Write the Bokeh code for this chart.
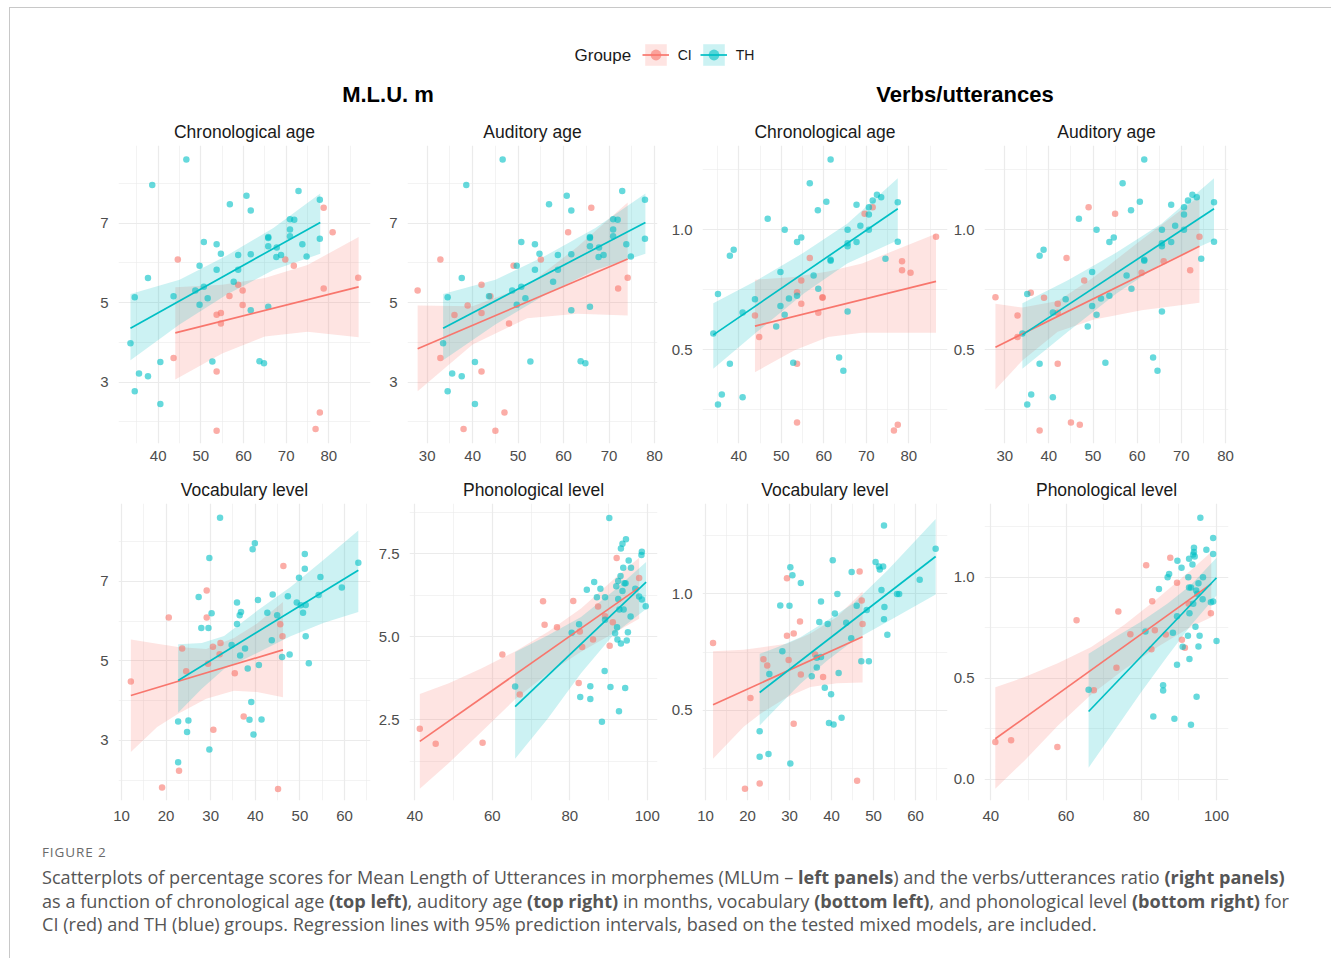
from bokeh.plotting import figure
from bokeh.models import (FixedTicker, NumeralTickFormatter, Range1d, Label,
                          Legend, LegendItem, Div)
from bokeh.layouts import column, row
from bokeh.embed import file_html
from bokeh.resources import INLINE

CI_COLOR = "#F8766D"
TH_COLOR = "#00BFC4"
FONT = "Liberation Sans"
NAN = float("nan")

groups = ["CI", "TH"]

# ---------------- tick definitions ----------------
ticks_age_chrono = [40, 50, 60, 70, 80]
minor_age_chrono = [35, 45, 55, 65, 75, 85]
ticks_age_aud = [30, 40, 50, 60, 70, 80]
minor_age_aud = [35, 45, 55, 65, 75]
ticks_vocab = [10, 20, 30, 40, 50, 60]
minor_vocab = [15, 25, 35, 45, 55, 65]
ticks_phon = [40, 60, 80, 100]
minor_phon = [50, 70, 90]
ticks_mlu = [3, 5, 7]
minor_mlu = [2, 4, 6, 8]
ticks_mlu_phon = [2.5, 5.0, 7.5]
minor_mlu_phon = [1.25, 3.75, 6.25, 8.75]
ticks_verbs = [0.5, 1.0]
minor_verbs = [0.25, 0.75, 1.25]
ticks_verbs_phon = [0.0, 0.5, 1.0]
minor_verbs_phon = [0.25, 0.75, 1.25]

# ---------------- TH: age (chronological = auditory) vs MLU ----------------
th_age_mlu_x = [46.6, 38.6, 60.7, 56.8, 61.7, 72.9, 77.9, 70.9, 71.9, 70.9, 70.9, 65.8,
                65.8, 65.8, 67.8, 73.8, 77.9, 67.7, 68.8, 74.8, 61.7, 58.75, 54.7, 50.7,
                53.7, 49.7, 53.7, 58.75, 57.7, 50.7, 48.7, 51.6, 49.7, 43.6, 34.5, 37.6,
                61.7, 65.8, 33.5, 40.5, 52.7, 63.75, 64.8, 35.5, 37.6, 34.5, 40.5]
th_age_mlu_y = [8.60, 7.96, 7.69, 7.48, 7.32, 7.81, 7.59, 7.10, 7.09, 6.84, 6.67, 6.65,
                6.63, 6.42, 6.39, 6.47, 6.61, 6.15, 6.20, 6.16, 6.22, 6.20, 6.23, 6.53,
                6.47, 5.93, 5.83, 5.83, 5.53, 5.40, 5.31, 5.11, 4.95, 5.16, 5.14, 5.62,
                4.81, 4.90, 3.98, 3.51, 3.52, 3.53, 3.48, 3.22, 3.15, 2.77, 2.45]

# CI chronological age vs MLU
ci_chrono_mlu_x = [44.6, 78.8, 80.9, 69.8, 71.8, 86.9, 78.8, 58.75, 59.8, 56.7, 59.8,
                   54.7, 53.7, 54.7, 43.6, 53.7, 77.9, 76.9, 53.7]
ci_chrono_mlu_y = [6.09, 7.39, 6.77, 6.09, 5.93, 5.63, 5.36, 5.45, 5.31, 5.17, 4.94,
                   4.74, 4.70, 4.48, 3.61, 3.27, 2.24, 1.82, 1.78]
# CI auditory age vs MLU
ci_aud_mlu_x = [27.9, 32.9, 32.9, 36.0, 38.9, 41.95, 41.95, 41.95, 43.9, 48.0, 49.0,
                55.0, 61.0, 66.1, 72.0, 74.1, 47.0, 38.0, 45.0]
ci_aud_mlu_y = [5.31, 6.09, 3.61, 4.69, 4.93, 5.45, 4.74, 3.27, 5.16, 4.48, 5.93,
                6.09, 6.77, 7.39, 5.36, 5.63, 2.24, 1.82, 1.78]

# ---------------- TH: age vs verbs/utterances ----------------
th_age_verbs_x = [61.6, 56.7, 60.6, 58.6, 46.8, 50.8, 67.7, 72.5, 73.5, 71.5, 70.6, 70.6,
                  77.4, 68.6, 65.6, 70.6, 65.6, 65.6, 67.7, 77.4, 54.7, 53.7, 38.8, 37.9,
                  61.6, 61.6, 74.5, 49.8, 57.6, 58.7, 35.1, 43.8, 51.8, 53.7, 49.8, 40.9,
                  50.8, 65.6, 48.8, 34.0, 37.9, 52.8, 63.6, 64.6, 36.0, 35.1, 40.9]
th_age_verbs_y = [1.293, 1.194, 1.117, 1.081, 1.046, 1.000, 1.104, 1.146, 1.136, 1.122,
                  1.094, 1.064, 1.115, 1.017, 1.000, 1.000, 0.944, 0.931, 0.949, 0.950,
                  0.968, 0.949, 0.917, 0.892, 0.875, 0.871, 0.879, 0.824, 0.810, 0.754,
                  0.733, 0.711, 0.714, 0.725, 0.683, 0.656, 0.646, 0.660, 0.597, 0.568,
                  0.442, 0.446, 0.468, 0.413, 0.314, 0.272, 0.303]
ci_chrono_verbs_x = [86.4, 69.6, 71.5, 56.7, 78.4, 78.4, 80.4, 54.7, 53.7, 59.7, 59.7,
                     54.7, 58.7, 43.8, 44.8, 53.7, 53.7, 77.4, 76.5]
ci_chrono_verbs_y = [0.971, 1.067, 1.094, 0.882, 0.869, 0.831, 0.821, 0.789, 0.740, 0.719,
                     0.717, 0.692, 0.654, 0.643, 0.553, 0.442, 0.197, 0.188, 0.164]
ci_aud_verbs_x = [27.9, 32.9, 32.9, 35.9, 38.9, 42.0, 42.0, 42.0, 44.0, 48.0, 49.0,
                  55.0, 61.0, 66.0, 72.0, 74.1, 37.9, 45.0, 47.0]
ci_aud_verbs_y = [0.719, 0.643, 0.553, 0.738, 0.717, 0.692, 0.654, 0.442, 0.882, 0.789,
                  1.094, 1.067, 0.821, 0.869, 0.831, 0.971, 0.164, 0.197, 0.188]

# ---------------- vocabulary vs MLU ----------------
th_vocab_mlu_x = [32.1, 39.9, 39.4, 29.7, 51.1, 51.1, 49.8, 54.6, 63.1, 59.4, 54.2, 43.9,
                  47.3, 49.3, 50.2, 51.3, 50.7, 40.6, 35.9, 27.3, 36.8, 36.5, 30.2, 42.7,
                  44.9, 35.9, 27.9, 29.5, 43.7, 34.7, 37.7, 36.6, 46.0, 47.7, 51.3, 52.0,
                  40.8, 38.3, 39.1, 22.7, 25.0, 38.7, 41.4, 24.7, 39.6, 29.7, 22.7]
th_vocab_mlu_y = [8.60, 7.96, 7.81, 7.59, 7.69, 7.32, 7.09, 7.11, 7.47, 6.85, 6.66, 6.67,
                  6.63, 6.47, 6.40, 6.41, 6.21, 6.53, 6.47, 6.61, 6.23, 6.15, 6.20, 6.21,
                  6.15, 5.93, 5.83, 5.83, 5.52, 5.40, 5.31, 5.14, 5.10, 5.16, 5.62, 4.94,
                  4.90, 4.81, 3.97, 3.48, 3.50, 3.52, 3.53, 3.21, 3.15, 2.77, 2.45]
ci_vocab_mlu_x = [12.1, 20.6, 29.1, 29.1, 46.3, 23.6, 24.5, 30.5, 32.2, 32.0, 29.4, 35.4,
                  45.6, 46.1, 37.4, 30.6, 22.9, 19.1, 45.1]
ci_vocab_mlu_y = [4.48, 6.09, 6.77, 6.09, 7.39, 5.31, 4.74, 5.36, 5.45, 5.17, 4.93, 4.69,
                  5.92, 5.62, 3.60, 3.27, 2.24, 1.82, 1.78]

# ---------------- phonological vs MLU ----------------
th_phon_mlu_x = [90.2, 94.5, 93.6, 93.2, 98.6, 98.5, 95.2, 95.8, 93.8, 93.1, 92.5, 94.1,
                 94.4, 86.3, 92.0, 87.9, 84.4, 93.6, 96.9, 87.0, 89.1, 92.5, 97.9, 98.6,
                 99.6, 92.8, 93.9, 95.7, 89.1, 82.4, 92.2, 80.5, 91.7, 95.0, 92.3, 94.7,
                 93.2, 89.0, 65.9, 85.3, 90.5, 94.3, 82.7, 85.3, 92.7, 88.3]
th_phon_mlu_y = [8.58, 7.94, 7.80, 7.66, 7.56, 7.46, 7.30, 7.08, 7.08, 6.83, 6.68, 6.61,
                 6.61, 6.65, 6.52, 6.45, 6.42, 6.38, 6.45, 6.19, 6.19, 6.14, 6.21, 6.12,
                 5.92, 5.82, 5.82, 5.61, 5.51, 5.38, 5.29, 5.12, 5.11, 5.14, 4.92, 4.89,
                 4.80, 3.97, 3.50, 3.51, 3.49, 3.46, 3.19, 3.13, 2.76, 2.44]
ci_phon_mlu_x = [41.3, 45.4, 57.5, 62.6, 73.1, 73.5, 76.7, 80.9, 67.1, 82.3, 82.6, 83.2,
                 86.0, 87.3, 89.1, 90.3, 91.1, 92.1, 97.9]
ci_phon_mlu_y = [2.23, 1.78, 1.81, 4.47, 6.07, 5.36, 5.29, 6.08, 3.26, 3.61, 5.16, 4.69,
                 4.92, 5.91, 5.62, 4.73, 5.44, 7.37, 6.77]

# ---------------- vocabulary vs verbs ----------------
th_vocab_verbs_x = [52.5, 64.8, 40.3, 50.5, 51.3, 52.3, 51.5, 44.8, 30.2, 30.7, 32.7, 61.0,
                    51.9, 41.4, 55.6, 56.1, 27.8, 30.0, 37.5, 46.0, 48.4, 52.6, 40.8, 37.1,
                    39.1, 43.5, 52.5, 53.3, 44.7, 28.3, 36.5, 37.5, 47.1, 48.9, 36.5, 25.2,
                    35.3, 41.7, 38.4, 39.9, 22.9, 39.4, 40.5, 42.4, 22.9, 25.0, 30.2]
th_vocab_verbs_y = [1.293, 1.193, 1.144, 1.136, 1.117, 1.117, 1.104, 1.093, 1.114, 1.080,
                    1.046, 1.060, 1.016, 0.999, 0.999, 0.999, 0.950, 0.949, 0.967, 0.949,
                    0.930, 0.943, 0.916, 0.879, 0.870, 0.876, 0.891, 0.824, 0.809, 0.754,
                    0.726, 0.729, 0.711, 0.711, 0.684, 0.656, 0.647, 0.660, 0.597, 0.569,
                    0.411, 0.446, 0.440, 0.469, 0.301, 0.313, 0.273]
ci_vocab_verbs_x = [11.8, 29.4, 46.7, 32.5, 29.4, 31.0, 47.2, 47.4, 23.8, 24.7, 29.8, 36.1,
                    32.7, 38.0, 20.7, 31.0, 19.4, 22.9, 46.1]
ci_vocab_verbs_y = [0.789, 1.067, 1.096, 0.881, 0.820, 0.830, 0.971, 0.870, 0.719, 0.693,
                    0.716, 0.740, 0.654, 0.643, 0.553, 0.443, 0.164, 0.187, 0.199]

# ---------------- phonological vs verbs ----------------
th_phon_verbs_x = [95.7, 99.1, 97.3, 99.1, 94.0, 94.0, 93.8, 94.2, 92.7, 89.6, 90.7, 93.6,
                   87.4, 87.0, 92.5, 96.4, 95.2, 84.7, 92.7, 93.2, 94.6, 94.9, 96.3, 98.5,
                   99.1, 93.8, 92.8, 89.5, 94.4, 88.4, 92.4, 95.5, 81.1, 100.0, 91.0, 95.2,
                   92.8, 89.5, 66.0, 85.8, 85.8, 94.7, 83.2, 88.8, 93.2]
th_phon_verbs_y = [1.293, 1.194, 1.135, 1.115, 1.145, 1.124, 1.112, 1.102, 1.091, 1.081,
                   1.046, 1.063, 1.016, 1.000, 1.000, 1.000, 0.970, 0.942, 0.949, 0.949,
                   0.934, 0.918, 0.891, 0.876, 0.880, 0.868, 0.822, 0.807, 0.755, 0.725,
                   0.710, 0.710, 0.731, 0.684, 0.656, 0.657, 0.595, 0.567, 0.443, 0.466,
                   0.440, 0.409, 0.311, 0.300, 0.270]
ci_phon_verbs_x = [41.2, 45.4, 57.7, 62.8, 73.9, 77.1, 67.4, 73.4, 81.3, 82.9, 83.6, 82.7,
                   86.5, 87.7, 89.5, 90.8, 91.6, 92.6, 98.5]
ci_phon_verbs_y = [0.185, 0.194, 0.161, 0.787, 0.830, 0.718, 0.441, 0.552, 1.059, 0.881,
                   0.738, 0.643, 0.717, 1.096, 0.972, 0.690, 0.651, 0.868, 0.822]

# ---------------- regression lines (end points) ----------------
line_ci_chrono_mlu = ([44.0, 87.0], [4.24, 5.40])
line_th_age_mlu = ([33.5, 78.0], [4.36, 7.02])
line_ci_aud_mlu = ([27.9, 74.1], [3.84, 6.10])
line_ci_chrono_verbs = ([43.8, 86.4], [0.599, 0.785])
line_th_age_verbs = ([34.0, 77.4], [0.5625, 1.0875])
line_ci_aud_verbs = ([27.9, 74.1], [0.511, 0.931])
line_ci_vocab_mlu = ([12.1, 46.2], [4.13, 5.28])
line_th_vocab_mlu = ([22.7, 63.1], [4.51, 7.28])
line_ci_phon_mlu = ([41.3, 97.9], [1.85, 6.48])
line_th_phon_mlu = ([65.9, 99.7], [2.90, 6.65])
line_ci_vocab_verbs = ([11.8, 47.4], [0.524, 0.816])
line_th_vocab_verbs = ([22.9, 64.8], [0.577, 1.16])
line_ci_phon_verbs = ([41.2, 98.6], [0.201, 0.967])
line_th_phon_verbs = ([66.0, 100.0], [0.336, 0.997])

# ---------------- 95% prediction bands (x, lower, upper) ----------------
band_ci_chrono_mlu = ([44, 55, 65, 75, 87],
                      [3.07, 3.72, 4.15, 4.27, 4.13],
                      [5.39, 5.45, 5.62, 5.95, 6.65])
band_th_age_mlu = ([33.5, 45, 56, 67, 78],
                   [3.55, 4.45, 5.20, 5.82, 6.23],
                   [5.22, 5.58, 6.18, 6.88, 7.75])
band_ci_aud_mlu = ([27.9, 40, 52, 63, 74.1],
                   [2.77, 3.95, 4.61, 4.72, 4.68],
                   [4.93, 4.91, 5.43, 6.40, 7.52])
band_ci_chrono_verbs = ([43.8, 53, 61, 69, 86.4],
                        [0.407, 0.497, 0.553, 0.571, 0.571],
                        [0.792, 0.803, 0.826, 0.860, 0.983])
band_th_age_verbs = ([34.0, 44.3, 55.3, 65.5, 77.4],
                     [0.421, 0.575, 0.735, 0.860, 0.956],
                     [0.694, 0.790, 0.905, 1.025, 1.215])
band_ci_aud_verbs = ([27.9, 34, 42, 50, 61, 74.1],
                     [0.335, 0.456, 0.575, 0.625, 0.665, 0.696],
                     [0.692, 0.676, 0.703, 0.800, 0.959, 1.140])
band_ci_vocab_mlu = ([12.1, 18, 22.7, 29, 35.2, 40.4, 46.2],
                     [2.71, 3.34, 3.67, 4.05, 4.25, 4.22, 4.09],
                     [5.54, 5.43, 5.35, 5.30, 5.58, 5.94, 6.48])
band_th_vocab_mlu = ([22.7, 28, 33, 40.4, 47.9, 55.4, 63.1],
                     [3.70, 4.30, 4.80, 5.20, 5.62, 5.96, 6.23],
                     [5.42, 5.45, 5.63, 6.26, 6.86, 7.55, 8.28])
band_ci_phon_mlu = ([41.3, 48.8, 57.3, 65.9, 74.4, 82.9, 91.5, 97.9],
                    [0.42, 1.20, 2.15, 3.12, 3.90, 4.55, 5.12, 5.54],
                    [3.28, 3.60, 4.05, 4.56, 5.15, 5.85, 6.75, 7.38])
band_th_phon_mlu = ([65.9, 74.4, 82.9, 91.5, 99.7],
                    [1.33, 2.55, 3.90, 5.09, 5.84],
                    [4.54, 5.05, 5.60, 6.40, 7.25])
band_ci_vocab_verbs = ([11.8, 19.1, 23.1, 29.4, 35, 41.3, 47.4],
                       [0.293, 0.43, 0.486, 0.557, 0.60, 0.617, 0.62],
                       [0.754, 0.76, 0.77, 0.786, 0.83, 0.90, 1.01])
band_th_vocab_verbs = ([22.9, 27.1, 32.6, 39, 45.3, 53.3, 64.8],
                       [0.436, 0.514, 0.614, 0.714, 0.80, 0.88, 0.997],
                       [0.743, 0.771, 0.814, 0.886, 0.96, 1.10, 1.321])
band_ci_phon_verbs = ([41.2, 49, 57.8, 66.7, 75.5, 84.3, 93.1, 98.6],
                      [-0.046, 0.094, 0.265, 0.42, 0.545, 0.655, 0.753, 0.802],
                      [0.456, 0.506, 0.575, 0.655, 0.765, 0.895, 1.033, 1.124])
band_th_phon_verbs = ([66, 72.8, 79.9, 87, 93.1, 100],
                      [0.058, 0.24, 0.43, 0.61, 0.76, 0.909],
                      [0.621, 0.70, 0.78, 0.87, 0.96, 1.096])

# ---------------- caption ----------------
figure_label = "FIGURE 2"
caption_lines = [
    "Scatterplots of percentage scores for Mean Length of Utterances in morphemes (MLUm &ndash; "
    "<b>left panels</b>) and the verbs/utterances ratio <b>(right panels)</b>",
    "as a function of chronological age <b>(top left)</b>, auditory age <b>(top right)</b> in months, "
    "vocabulary <b>(bottom left)</b>, and phonological level <b>(bottom right)</b> for",
    "CI (red) and TH (blue) groups. Regression lines with 95% prediction intervals, based on the "
    "tested mixed models, are included.",
]


def make_panel(title, width, height, left, right, top, bottom, xr, yr,
               xt, xmt, yt, ymt, yfmt, series, xstand):
    p = figure(width=width, height=height, min_border_left=left, min_border_right=right,
               min_border_top=top, min_border_bottom=bottom,
               x_range=Range1d(*xr), y_range=Range1d(*yr),
               toolbar_location=None, output_backend="svg", title=title)
    xtick = FixedTicker(ticks=xt, minor_ticks=xmt)
    ytick = FixedTicker(ticks=yt, minor_ticks=ymt)
    p.xaxis.ticker = xtick
    p.yaxis.ticker = ytick
    p.xgrid.ticker = xtick
    p.ygrid.ticker = ytick
    if yfmt:
        p.yaxis.formatter = NumeralTickFormatter(format=yfmt)
    for ax in p.xaxis + p.yaxis:
        ax.axis_line_color = None
        ax.major_tick_line_color = None
        ax.minor_tick_line_color = None
        ax.major_tick_out = 0
        ax.major_tick_in = 0
        ax.minor_tick_out = 0
        ax.major_label_text_font = FONT
        ax.major_label_text_font_size = "15px"
        ax.major_label_text_color = "#4D4D4D"
    p.xaxis.major_label_standoff = xstand
    p.yaxis.major_label_standoff = 10
    for g in p.xgrid + p.ygrid:
        g.grid_line_color = "#EBEBEB"
        g.grid_line_width = 1.2
        g.minor_grid_line_color = "#EBEBEB"
        g.minor_grid_line_width = 0.6
    p.outline_line_color = None
    p.title.align = "center"
    p.title.text_font = FONT
    p.title.text_font_size = "17.5px"
    p.title.text_font_style = "normal"
    p.title.text_color = "#1A1A1A"
    p.title.standoff = 7
    for color, band, px, py, ln in series:
        p.varea(x=band[0], y1=band[1], y2=band[2], fill_color=color, fill_alpha=0.2)
    for color, band, px, py, ln in series:
        p.scatter(px, py, size=6.5, fill_color=color, fill_alpha=0.6, line_color=None)
    for color, band, px, py, ln in series:
        p.line(ln[0], ln[1], line_color=color, line_width=1.7)
    return p


H = 360
# ---- top row ----
p1 = make_panel("Chronological age", 375, H, 108, 15, 35, 27, (30.69, 89.78), (1.458, 8.955),
                ticks_age_chrono, minor_age_chrono, ticks_mlu, minor_mlu, None,
                [(CI_COLOR, band_ci_chrono_mlu, ci_chrono_mlu_x, ci_chrono_mlu_y, line_ci_chrono_mlu),
                 (TH_COLOR, band_th_age_mlu, th_age_mlu_x, th_age_mlu_y, line_th_age_mlu)], 7)
p2 = make_panel("Auditory age", 280, H, 22, 8, 35, 27, (25.67, 80.66), (1.458, 8.955),
                ticks_age_aud, minor_age_aud, ticks_mlu, minor_mlu, None,
                [(CI_COLOR, band_ci_aud_mlu, ci_aud_mlu_x, ci_aud_mlu_y, line_ci_aud_mlu),
                 (TH_COLOR, band_th_age_mlu, th_age_mlu_x, th_age_mlu_y, line_th_age_mlu)], 7)
p3 = make_panel("Chronological age", 285, H, 37, 3, 35, 27, (31.46, 89.1), (0.110, 1.351),
                ticks_age_chrono, minor_age_chrono, ticks_verbs, minor_verbs, "0.0",
                [(CI_COLOR, band_ci_chrono_verbs, ci_chrono_verbs_x, ci_chrono_verbs_y, line_ci_chrono_verbs),
                 (TH_COLOR, band_th_age_verbs, th_age_verbs_x, th_age_verbs_y, line_th_age_verbs)], 7)
p4 = make_panel("Auditory age", 381, H, 33, 103, 35, 27, (25.42, 80.68), (0.110, 1.351),
                ticks_age_aud, minor_age_aud, ticks_verbs, minor_verbs, "0.0",
                [(CI_COLOR, band_ci_aud_verbs, ci_aud_verbs_x, ci_aud_verbs_y, line_ci_aud_verbs),
                 (TH_COLOR, band_th_age_verbs, th_age_verbs_x, th_age_verbs_y, line_th_age_verbs)], 7)
# ---- bottom row ----
p5 = make_panel("Vocabulary level", 365, H, 108, 5, 33, 30, (9.33, 65.83), (1.49, 8.96),
                ticks_vocab, minor_vocab, ticks_mlu, minor_mlu, None,
                [(CI_COLOR, band_ci_vocab_mlu, ci_vocab_mlu_x, ci_vocab_mlu_y, line_ci_vocab_mlu),
                 (TH_COLOR, band_th_vocab_mlu, th_vocab_mlu_x, th_vocab_mlu_y, line_th_vocab_mlu)], 10)
p6 = make_panel("Phonological level", 290, H, 32, 8, 33, 30, (38.64, 102.64), (0.069, 9.015),
                ticks_phon, minor_phon, ticks_mlu_phon, minor_mlu_phon, "0.0",
                [(CI_COLOR, band_ci_phon_mlu, ci_phon_mlu_x, ci_phon_mlu_y, line_ci_phon_mlu),
                 (TH_COLOR, band_th_phon_mlu, th_phon_mlu_x, th_phon_mlu_y, line_th_phon_mlu)], 10)
p7 = make_panel("Vocabulary level", 285, H, 37, 3, 33, 30, (9.29, 67.62), (0.114, 1.387),
                ticks_vocab, minor_vocab, ticks_verbs, minor_verbs, "0.0",
                [(CI_COLOR, band_ci_vocab_verbs, ci_vocab_verbs_x, ci_vocab_verbs_y, line_ci_vocab_verbs),
                 (TH_COLOR, band_th_vocab_verbs, th_vocab_verbs_x, th_vocab_verbs_y, line_th_vocab_verbs)], 10)
p8 = make_panel("Phonological level", 381, H, 33, 103, 33, 30, (38.33, 103.18), (-0.104, 1.364),
                ticks_phon, minor_phon, ticks_verbs_phon, minor_verbs_phon, "0.0",
                [(CI_COLOR, band_ci_phon_verbs, ci_phon_verbs_x, ci_phon_verbs_y, line_ci_phon_verbs),
                 (TH_COLOR, band_th_phon_verbs, th_phon_verbs_x, th_phon_verbs_y, line_th_phon_verbs)], 10)

# ---- header: legend and group titles ----
HW, HH = 1321, 102
hdr = figure(width=HW, height=HH, x_range=Range1d(0, HW), y_range=Range1d(0, HH),
             toolbar_location=None, output_backend="svg", min_border=0,
             x_axis_location=None, y_axis_location=None)
hdr.grid.visible = False
hdr.outline_line_color = None

items = []
for name, color in zip(groups, [CI_COLOR, TH_COLOR]):
    # legend-key proxies (no visible data)
    rb = hdr.varea(x=[NAN], y1=[NAN], y2=[NAN], fill_color=color, fill_alpha=0.2)
    rl = hdr.line(x=[NAN], y=[NAN], line_color=color, line_width=1.7)
    rs = hdr.scatter(x=[NAN], y=[NAN], size=6.5, fill_color=color, fill_alpha=0.6, line_color=None)
    items.append(LegendItem(label=name, renderers=[rb, rl, rs]))

leg = Legend(items=items, location=(631.7, 42), orientation="horizontal",
             glyph_width=27, glyph_height=27, label_standoff=9, spacing=8,
             padding=0, margin=0, border_line_color=None, background_fill_alpha=0,
             label_text_font=FONT, label_text_font_size="14px", label_text_color="#1A1A1A",
             label_width=0, label_height=20)
hdr.add_layout(leg)
hdr.add_layout(Label(x=564, y=55.5, text="Groupe", text_font=FONT, text_font_size="17px",
                     text_baseline="middle", text_align="left", text_color="#1A1A1A"))
hdr.add_layout(Label(x=377.5, y=16, text="M.L.U. m", text_font=FONT, text_font_size="22px",
                     text_font_style="bold", text_baseline="middle", text_align="center",
                     text_color="#000000"))
hdr.add_layout(Label(x=954.5, y=16, text="Verbs/utterances", text_font=FONT, text_font_size="22px",
                     text_font_style="bold", text_baseline="middle", text_align="center",
                     text_color="#000000"))

caption_html = (
    '<div style="font-family:\'Open Sans\', sans-serif; margin-left:27px; white-space:nowrap;">'
    '<div style="font-size:13.5px; letter-spacing:0.9px; line-height:16px; margin-top:9px; color:#6a6a6a;">'
    + figure_label + '</div>'
    '<div style="font-size:18.1px; line-height:23.5px; margin-top:6px; color:#555555;">'
    + "<br>".join(caption_lines) + '</div></div>'
)
cap = Div(text=caption_html, width=HW, height=120)

layout = column(hdr, row(p1, p2, p3, p4), row(p5, p6, p7, p8), cap,
                margin=(7, 0, 0, 9),
                styles={"border-top": "1px solid #c8c8c8", "border-left": "1px solid #c8c8c8"})

open("out.html", "w").write(file_html(layout, INLINE))
